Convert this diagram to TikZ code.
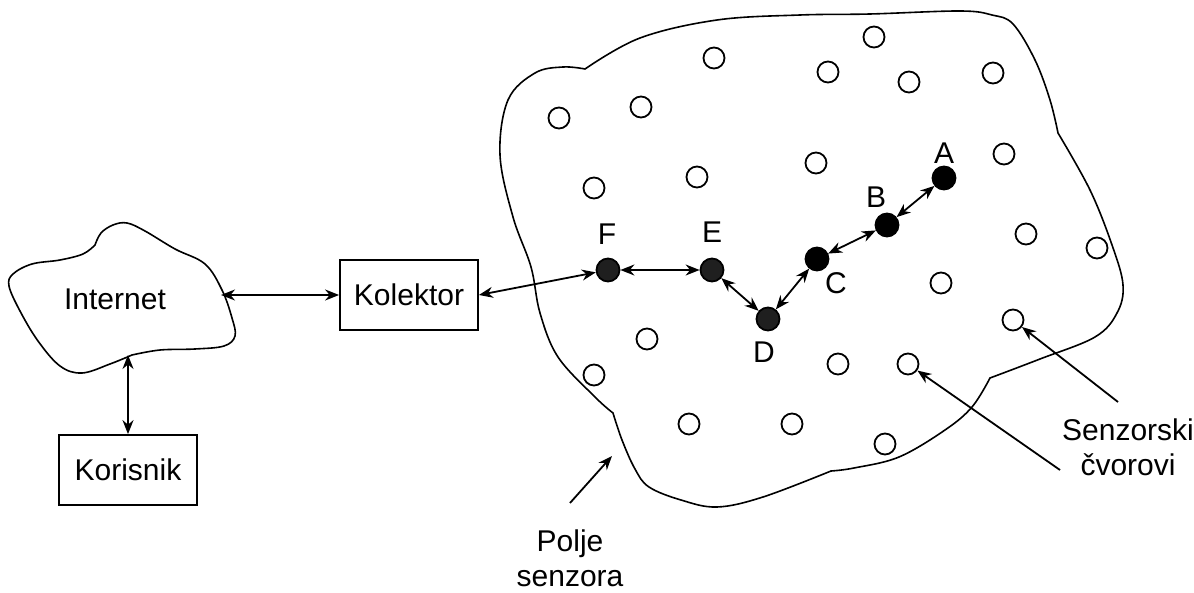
\documentclass[tikz,border=0pt]{standalone}
\usepackage{fontspec}
\setmainfont{Liberation Sans}
\usetikzlibrary{arrows.meta}
\begin{document}
\begin{tikzpicture}[x=0.5pt,y=-0.5pt,
 every node/.style={font=\fontsize{15}{17.5}\selectfont},
 outline/.style={line width=0.8pt,line join=miter},
 box/.style={draw,line width=0.9pt,minimum width=69pt,minimum height=35pt,inner sep=0},
 snode/.style={circle,draw,line width=0.9pt,minimum size=10.5pt,inner sep=0},
 act/.style={circle,draw,fill=black,line width=0.9pt,minimum size=11.5pt,inner sep=0},
 actg/.style={act,fill=black!88},
 dbl/.style={line width=0.9pt,{Stealth[length=7pt,width=5.5pt]}-{Stealth[length=7pt,width=5.5pt]}},
 sgl/.style={line width=0.9pt,-{Stealth[length=7pt,width=5.5pt]}},
 lbl/.style={inner sep=0}]
\useasboundingbox (0,0) rectangle (1194,593);

% Internet cloud
\draw[outline] (95,245) -- plot[smooth,tension=0.6] coordinates {(95,245) (101,233) (113,225) (127,223) (145,231) (175,249) (205,264) (222,290) (232,318) (235,336) (224,346) (195,349) (160,350) (132,355)}
 -- plot[smooth,tension=0.6] coordinates {(132,355) (110,364) (82,373) (60,366) (38,341) (20,311) (9,286) (13,274) (32,264) (60,260) (83,254) (95,245)} -- cycle;
\node[lbl] (inet) at (115,299) {Internet};

% Sensor field outline
\draw[outline] (585,69)
 -- plot[smooth,tension=0.6] coordinates {(585,69) (640,38) (717,20) (800,15) (870,14) (960,11) (992,15) (1013,24) (1035,60) (1050,100) (1058,133)}
 -- plot[smooth,tension=0.6] coordinates {(1058,133) (1090,190) (1112,245) (1123,285) (1117,313) (1095,337) (1040,359) (990,378)}
 -- plot[smooth,tension=0.6] coordinates {(990,378) (972,407) (945,430) (899,457) (854,468) (831,471)}
 -- plot[smooth,tension=0.6] coordinates {(831,471) (763,497) (717,507) (681,500) (649,487) (635,469) (622,440) (613,413)}
 -- plot[smooth,tension=0.6] coordinates {(613,413) (595,397) (558,357) (540,313) (531,267) (513,217) (500,155) (508,100) (535,73) (563,67) (585,69)} -- cycle;

% boxes
\node[box] (kol) at (409,295) {Kolektor};
\node[box] (kor) at (128,470) {Korisnik};

\coordinate (inetR) at (221,295);
\coordinate (inetB) at (128,355);
\draw[dbl] (inetR) -- (kol.west);
\draw[dbl] (inetB) -- (kor.north);

% open sensor nodes
\foreach \n/\x/\y in {s1/874/37, s2/714/58, s3/828/72, s4/909/82, s5/993/73, s6/641/107, s7/559/118, s8/1004/154, s9/816/163, s10/697/177, s11/594/188, s12/1026/234, s13/1097/248, s14/941/283, s15/1013/320, s16/647/339, s17/594/375, s18/838/364, s19/908/364, s20/689/424, s21/792/424, s22/885/444}
  \node[snode] (\n) at (\x,\y) {};

% active nodes
\node[act] (A) at (944,178) {};
\node[act] (B) at (887,225) {};
\node[act] (C) at (817,259) {};
\node[actg] (D) at (768,319) {};
\node[actg] (E) at (712,270) {};
\node[actg] (F) at (608,270) {};

\node[lbl] (lA) at (944,153) {A};
\node[lbl] (lB) at (876,197) {B};
\node[lbl] (lC) at (836,283) {C};
\node[lbl] (lD) at (764,352) {D};
\node[lbl] (lE) at (712,232) {E};
\node[lbl] (lF) at (607,234) {F};

\draw[dbl] (kol.east) -- (F);
\draw[dbl] (F) -- (E);
\draw[dbl] (E) -- (D);
\draw[dbl] (D) -- (C);
\draw[dbl] (C) -- (B);
\draw[dbl] (B) -- (A);

% annotations
\node[lbl,align=center] (sc) at (1128,447) {Senzorski\\čvorovi};
\node[lbl,align=center] (ps) at (570,558) {Polje\\senzora};
\coordinate (t1) at (1118,402);
\coordinate (t2) at (1060,470);
\coordinate (t3) at (570,503);
\coordinate (h3) at (612,456);
\draw[sgl] (t1) -- (s15);
\draw[sgl] (t2) -- (s19);
\draw[sgl] (t3) -- (h3);
\end{tikzpicture}
\end{document}
